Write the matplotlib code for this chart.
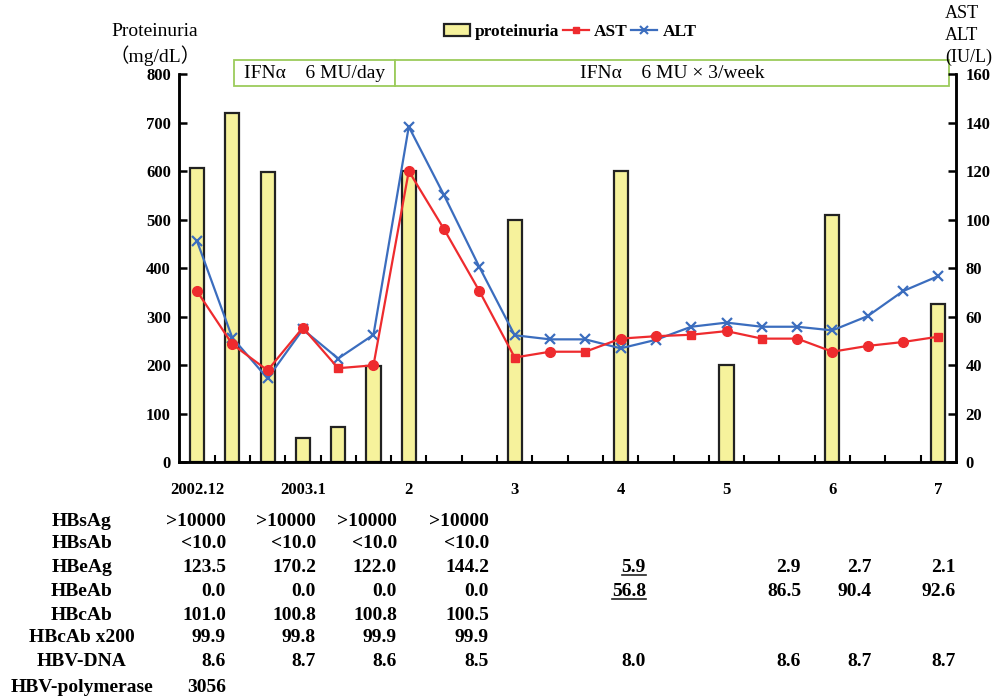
import numpy as np
import matplotlib
matplotlib.use("Agg")
import matplotlib.pyplot as plt
from matplotlib.patches import Rectangle


# Weekly visits, 22 of them from Dec 2002 to Jul 2003
WEEKS = np.arange(22)
MONTH_POSITIONS = [0, 3, 6, 9, 12, 15, 18, 21]
MONTH_LABELS = ["2002.12", "2003.1", "2", "3", "4", "5", "6", "7"]

# Proteinuria (mg/dL), only measured on some weeks
PROTEINURIA_WEEKS = [0, 1, 2, 3, 4, 5, 6, 9, 12, 15, 18, 21]
PROTEINURIA = [607, 721, 598, 50, 72, 199, 600, 499, 600, 200, 510, 327]

# Liver enzymes (IU/L)
AST = [70.6, 48.7, 37.9, 55.5, 38.8, 40.0, 120.1, 96.1, 70.6, 43.2, 45.6,
       45.6, 51.0, 52.0, 52.6, 54.1, 51.0, 51.0, 45.6, 48.0, 49.6, 51.8]
ALT = [91.3, 51.4, 34.6, 54.8, 42.8, 52.6, 138.4, 110.1, 80.5, 52.4, 50.7,
       50.7, 47.0, 50.5, 55.9, 57.6, 55.9, 55.9, 54.4, 60.3, 70.6, 76.8]
AST_SQUARE_WEEKS = [4, 9, 11, 14, 16, 21]

# Treatment periods (start week, end week, text)
TREATMENTS = [
    (1.05, 5.61, "IFNα\u30006 MU/day"),
    (5.61, 21.3, "IFNα\u30006 MU × 3/week"),
]

# Serology table under the chart
TABLE_ROWS = ["HBsAg", "HBsAb", "HBeAg", "HBeAb", "HBcAb", "HBcAb x200",
              "HBV-DNA", "HBV-polymerase"]
TABLE_VALUES = [
    [">10000", ">10000", ">10000", ">10000", "", "", "", ""],
    ["<10.0", "<10.0", "<10.0", "<10.0", "", "", "", ""],
    ["123.5", "170.2", "122.0", "144.2", "5.9", "2.9", "2.7", "2.1"],
    ["0.0", "0.0", "0.0", "0.0", "56.8", "86.5", "90.4", "92.6"],
    ["101.0", "100.8", "100.8", "100.5", "", "", "", ""],
    ["99.9", "99.8", "99.9", "99.9", "", "", "", ""],
    ["8.6", "8.7", "8.6", "8.5", "8.0", "8.6", "8.7", "8.7"],
    ["3056", "", "", "", "", "", "", ""],
]
UNDERLINED_COLUMN = 4
COLUMN_RIGHT_PX = [226, 316, 397, 489, 646, 801, 872, 956]


SERIF = ["Liberation Serif", "Noto Sans CJK JP"]
BAR_COLOR = "#F6F29C"
RED = "#EE2B2E"
BLUE = "#3B6DBE"
GREEN = "#9CCB5C"

FIG_W, FIG_H = 992, 699

plt.rcParams["font.family"] = SERIF
plt.rcParams["font.weight"] = "bold"


def fig_xy(x_px, y_px):
    return x_px / FIG_W, 1 - y_px / FIG_H


fig = plt.figure(figsize=(FIG_W / 100, FIG_H / 100), dpi=100)
ax = fig.add_axes([179.3 / FIG_W, 1 - 462.3 / FIG_H,
                   (956 - 179.3) / FIG_W, (462.3 - 74.3) / FIG_H])
ax2 = ax.twinx()

# Proteinuria bars
ax.bar(PROTEINURIA_WEEKS, PROTEINURIA, width=0.4, color=BAR_COLOR,
       edgecolor="#222222", linewidth=1.6, zorder=1)

ax.set_xlim(-0.5, 21.5)
ax.set_ylim(0, 800)
ax.set_yticks(np.arange(0, 801, 100))
ax.set_xticks(MONTH_POSITIONS)
ax.set_xticklabels(MONTH_LABELS)
ax.set_xticks(np.arange(0.5, 21, 1), minor=True)
ax.tick_params(axis="x", which="major", length=0, pad=14, labelsize=12)
ax.tick_params(axis="x", which="minor", direction="in", length=5, width=1.5)
ax.tick_params(axis="y", direction="in", length=6, width=1.8, pad=6,
               labelsize=12)

# AST / ALT lines on the right axis
ax2.plot(WEEKS, ALT, color=BLUE, linewidth=1.6, marker="x",
         markersize=6.5, markeredgewidth=1.6, zorder=3)
ax2.plot(WEEKS, AST, color=RED, linewidth=1.6, zorder=4)
circle_weeks = [w for w in WEEKS if w not in AST_SQUARE_WEEKS]
ax2.plot(circle_weeks, [AST[w] for w in circle_weeks], linestyle="none",
         marker="o", markersize=7, color=RED, zorder=5)
ax2.plot(AST_SQUARE_WEEKS, [AST[w] for w in AST_SQUARE_WEEKS],
         linestyle="none", marker="s", markersize=6, color=RED, zorder=5)
ax2.set_ylim(0, 160)
ax2.set_yticks(np.arange(0, 161, 20))
ax2.tick_params(axis="y", direction="in", length=6, width=1.8, pad=7,
                labelsize=12)

for a in (ax, ax2):
    a.spines["top"].set_visible(False)
    for side in ("left", "right", "bottom"):
        a.spines[side].set_linewidth(1.8)
    for label in a.get_xticklabels() + a.get_yticklabels():
        label.set_fontweight("bold")

# Treatment boxes above the plot
box_bottom, box_top = 776, 829
for start, end, text in TREATMENTS:
    ax.add_patch(Rectangle((start, box_bottom), end - start,
                           box_top - box_bottom, facecolor="white",
                           edgecolor=GREEN, linewidth=1.3, clip_on=False,
                           zorder=6))
    ax.text((start + end) / 2, (box_bottom + box_top) / 2, text,
            ha="center", va="center", fontsize=14, fontweight="normal",
            family=SERIF, zorder=7, clip_on=False)

# Axis titles
fig.text(*fig_xy(155, 32), "Proteinuria", ha="center", va="center",
         fontsize=14, fontweight="normal")
fig.text(*fig_xy(155, 56), "（mg/dL）", ha="center", va="center",
         fontsize=14, fontweight="normal", family=SERIF)
for y_px, text in zip([14, 35, 57], ["AST", "ALT", "(IU/L)"]):
    fig.text(*fig_xy(945, y_px), text, ha="left", va="center",
             fontsize=13, fontweight="normal")

# Legend
bar_handle = Rectangle((0, 0), 1, 1, facecolor=BAR_COLOR,
                       edgecolor="#222222", linewidth=1.6)
ast_handle, = ax2.plot([], [], color=RED, linewidth=1.6, marker="s",
                       markersize=5)
alt_handle, = ax2.plot([], [], color=BLUE, linewidth=1.6, marker="x",
                       markersize=6, markeredgewidth=1.5)
fig.legend([bar_handle, ast_handle, alt_handle],
           ["proteinuria", "AST", "ALT"], loc="center",
           bbox_to_anchor=fig_xy(570, 32), ncol=3, frameon=False,
           handlelength=1.5, handletextpad=0.3, columnspacing=0.2,
           prop={"family": SERIF, "weight": "bold", "size": 12.5})

# Serology table
row_y = [521, 544, 568, 592, 615, 638, 662, 687]
underlined = []
for name, values, y_px in zip(TABLE_ROWS, TABLE_VALUES, row_y):
    fig.text(*fig_xy(82, y_px), name, ha="center", va="center",
             fontsize=14, fontweight="bold")
    for col, value in enumerate(values):
        if not value:
            continue
        t = fig.text(*fig_xy(COLUMN_RIGHT_PX[col], y_px), value,
                     ha="right", va="center", fontsize=14,
                     fontweight="bold")
        if col == UNDERLINED_COLUMN and name in ("HBeAg", "HBeAb"):
            underlined.append(t)

fig.canvas.draw()
renderer = fig.canvas.get_renderer()
for t in underlined:
    box = t.get_window_extent(renderer).transformed(fig.transFigure.inverted())
    y = box.y0 + 1.5 / FIG_H
    fig.add_artist(plt.Line2D([box.x0, box.x1], [y, y], color="#222222",
                              linewidth=1.2, transform=fig.transFigure))

fig.savefig("out.png", dpi=100)
